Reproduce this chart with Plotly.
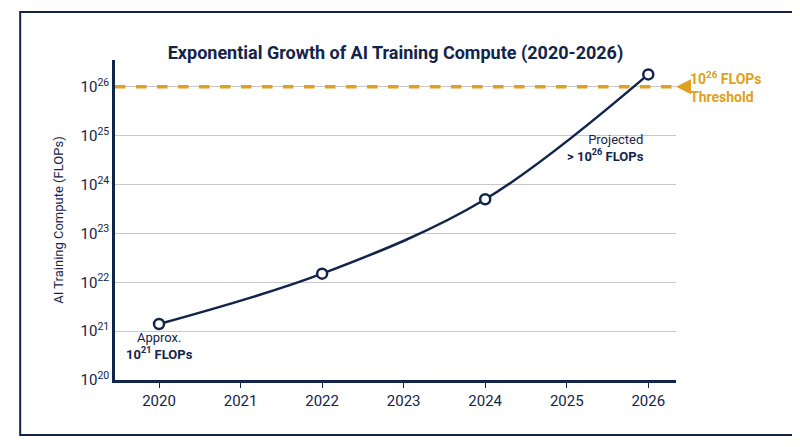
import plotly.graph_objects as go

years = [2020, 2022, 2024, 2026]
flops = [1.4e21, 1.5e22, 5.0e23, 1.8e26]
threshold = 1e26
xticks = [2020, 2021, 2022, 2023, 2024, 2025, 2026]
yticks = [1e20, 1e21, 1e22, 1e23, 1e24, 1e25, 1e26]
ytext = ["10<sup>%d</sup>" % e for e in range(20, 27)]

navy = "#13244b"
orange = "#e0a020"

fig = go.Figure()
fig.add_trace(go.Scatter(x=[2019.46, 2026.34], y=[threshold, threshold], mode="lines", cliponaxis=False,
                         line=dict(color=orange, width=3.5, dash="dash"), hoverinfo="skip"))
fig.add_trace(go.Scatter(x=years, y=flops, mode="lines+markers", cliponaxis=False,
                         line=dict(color=navy, width=2.5, shape="spline", smoothing=1.0),
                         marker=dict(size=10, color="white", line=dict(color=navy, width=2.5))))
fig.add_shape(type="line", x0=2026, x1=2026, y0=flops[3], y1=1.5e25, line=dict(color="#b0b0b0", width=1))
fig.add_annotation(x=1.0, y=26, xref="paper", yref="y", ax=14, ay=0, axref="pixel", ayref="pixel",
                   showarrow=True, arrowhead=2, arrowsize=1, arrowwidth=3, arrowcolor=orange, text="",
                   standoff=0)
fig.add_annotation(x=1.021, y=26, xref="paper", yref="y", xanchor="left", yanchor="middle", showarrow=False,
                   align="left", text="<b>10<sup>26</sup> FLOPs<br>Threshold</b>", font=dict(color=orange, size=14))
fig.add_annotation(x=2026, y=24.75, showarrow=False, align="right", xanchor="right", xshift=-2,
                   text="Projected<br><b>&gt; 10<sup>26</sup> FLOPs</b>", font=dict(color=navy, size=13))
fig.add_annotation(x=2020, y=20.7, showarrow=False, align="center",
                   text="Approx.<br><b>10<sup>21</sup> FLOPs</b>", font=dict(color=navy, size=13))

fig.update_layout(
    width=800, height=447, paper_bgcolor="white", plot_bgcolor="white", showlegend=False,
    margin=dict(l=107, r=132, t=52, b=75, autoexpand=False),
    title=dict(text="<b>Exponential Growth of AI Training Compute (2020-2026)</b>", x=0.5, y=0.915,
               xanchor="center", xref="paper", font=dict(size=18, color=navy, family="Roboto")),
    font=dict(family="Roboto", color=navy),
    xaxis=dict(range=[2019.46, 2026.34], tickvals=xticks, showgrid=False, showline=True, linecolor=navy,
               linewidth=2.5, ticks="outside", tickcolor=navy, ticklen=5, tickfont=dict(size=15, color=navy)),
    yaxis=dict(type="log", range=[20, 26.55], tickvals=yticks, ticktext=ytext, showgrid=True,
               gridcolor="#c8c8c8", showline=True, linecolor=navy, linewidth=2.5, tickfont=dict(size=15, color=navy),
               title=dict(text="AI Training Compute (FLOPs)", font=dict(size=13, color=navy)), zeroline=False),
    shapes=[dict(type="rect", xref="paper", yref="paper", x0=-0.169, x1=1.212, y0=-0.172, y1=1.15,
                 line=dict(color=navy, width=2), layer="below")]
)
fig.write_html("out.html")
